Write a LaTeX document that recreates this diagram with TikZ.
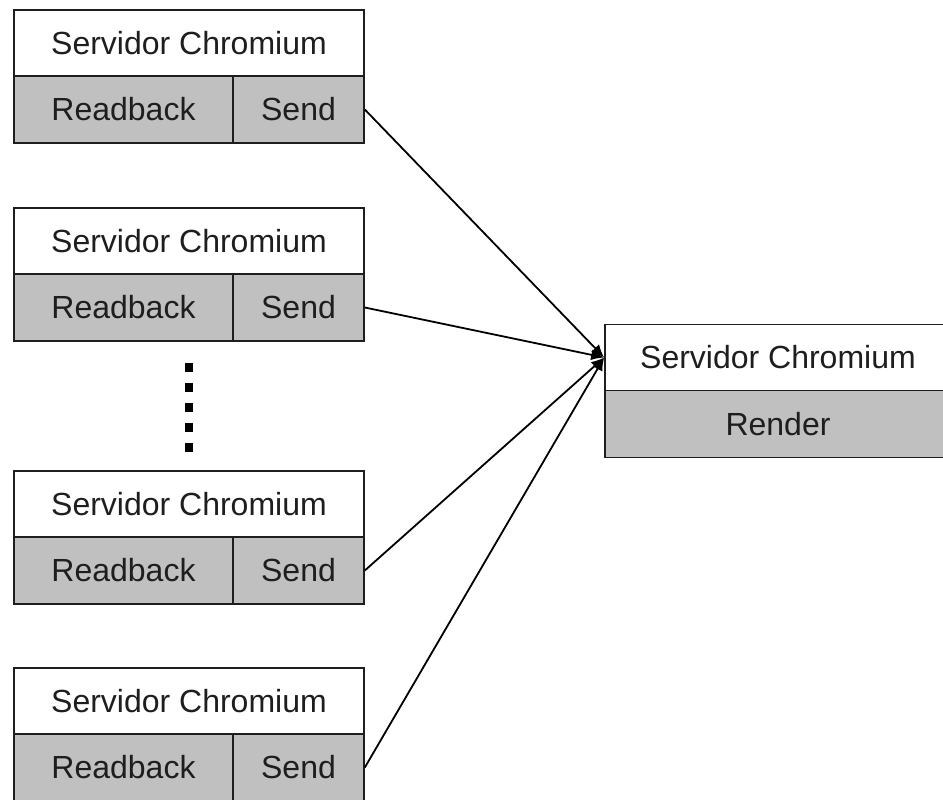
\documentclass[tikz,border=0pt]{standalone}
\usepackage{fontspec}
\setmainfont{Liberation Sans}
\usetikzlibrary{arrows.meta}
\definecolor{cellgray}{RGB}{192,192,192}
\definecolor{inkgray}{RGB}{30,30,30}
\tikzset{
    box/.style={draw=inkgray, line width=1.6pt, inner sep=0pt, text=inkgray,
        font=\fontsize{32}{40}\selectfont},
    titlebox/.style={box, fill=white, minimum height=66pt},
    cellbox/.style={box, fill=cellgray, minimum height=67pt},
}
\begin{document}
\begin{tikzpicture}[x=1pt, y=-1pt]
    \useasboundingbox[fill=white] (0,0) rectangle (943,800);

    % sending servers
    \foreach \i/\t in {1/10, 2/208, 3/471, 4/668} {
        \node[titlebox, minimum width=350pt] (title\i) at (189, \t+33) {Servidor Chromium};
        \node[cellbox, minimum width=219pt] (read\i) at (123.5, \t+99.5) {Readback};
        \node[cellbox, minimum width=131pt] (send\i) at (298.5, \t+99.5) {Send};
    }

    % render server
    \node[titlebox, minimum width=346pt] (srv) at (778, 357.5) {Servidor Chromium};
    \node[cellbox, minimum width=346pt] (render) at (778, 424) {Render};

    % dots between the boxes
    \foreach \y in {367, 387, 407, 427, 447}
        \fill[black] (185,\y-4.5) rectangle (193,\y+4.5);

    \foreach \i in {1,...,4}
        \draw[black, line width=1.8pt, -{Latex[length=13pt, width=11pt]}] (send\i.east) -- (srv.west);
\end{tikzpicture}
\end{document}
